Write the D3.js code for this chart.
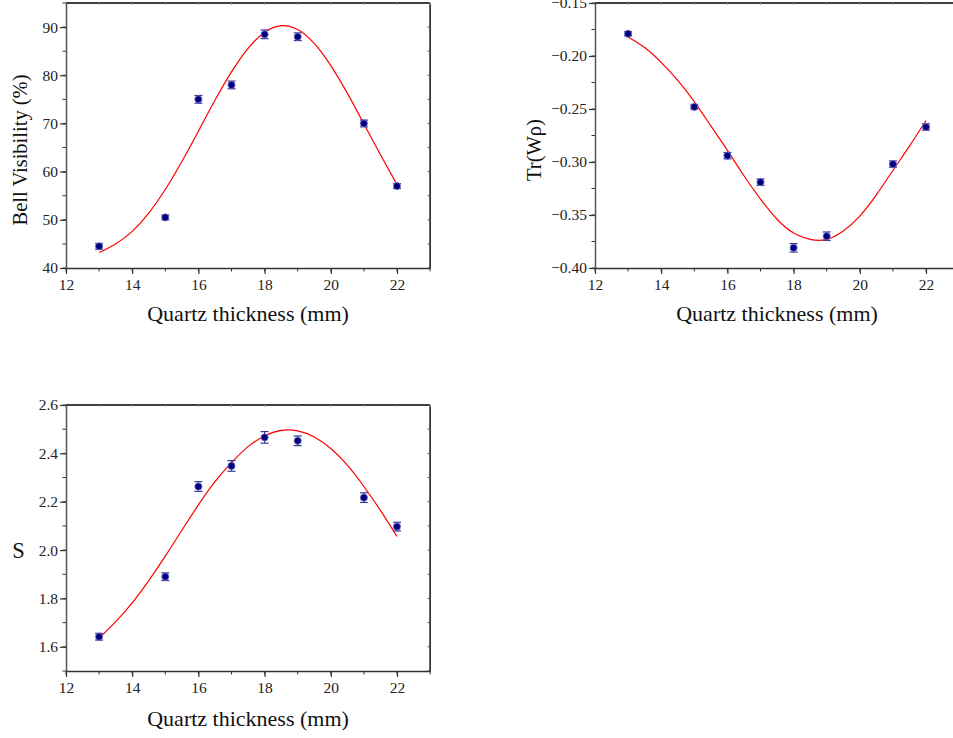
<!DOCTYPE html>
<html><head><meta charset="utf-8">
<script src="https://cdn.jsdelivr.net/npm/d3@7"></script>
<style>
body{margin:0;background:#fff;}
svg{display:block;}
text{font-family:"Liberation Serif","Times New Roman","DejaVu Serif",serif;}
</style></head>
<body>
<svg id="chart" width="953" height="738"></svg>
<script>
// ---------- data ----------
const thickness = [13, 15, 16, 17, 18, 19, 21, 22];

const visibility    = [44.5, 50.5, 75.0, 78.0, 88.5, 88.0, 70.0, 57.0];
const visibilityErr = [0.6, 0.5, 0.8, 0.8, 0.9, 0.8, 0.7, 0.5];

const traceW    = [-0.179, -0.248, -0.294, -0.319, -0.381, -0.370, -0.302, -0.267];
const traceWErr = [0.002, 0.002, 0.003, 0.003, 0.004, 0.004, 0.003, 0.003];

const sValue = [1.642, 1.890, 2.263, 2.348, 2.466, 2.452, 2.217, 2.097];
const sErr   = [0.014, 0.016, 0.020, 0.022, 0.024, 0.020, 0.020, 0.018];

// fitted curves
const fitX = [13, 13.5, 14, 14.5, 15, 15.5, 16, 16.5, 17, 17.5, 18, 18.5, 19, 19.5, 20, 20.5, 21, 21.5, 22];
const fitVisibility = [43.2, 45.0, 47.6, 51.4, 56.3, 62.1, 68.4, 74.8, 80.7, 85.6, 88.9, 90.3, 89.5, 86.6, 82.0, 76.3, 69.9, 63.5, 57.3];
const fitTraceW = [-0.182, -0.192, -0.206, -0.223, -0.243, -0.266, -0.289, -0.313, -0.335, -0.354, -0.367, -0.373, -0.373, -0.365, -0.351, -0.331, -0.308, -0.285, -0.261];
const fitS = [1.635, 1.704, 1.782, 1.874, 1.975, 2.082, 2.187, 2.283, 2.362, 2.428, 2.472, 2.495, 2.493, 2.468, 2.420, 2.351, 2.263, 2.164, 2.056];

const xTicks = [12, 14, 16, 18, 20, 22];
const yTicks1 = [40, 50, 60, 70, 80, 90];
const yTicks2 = [-0.40, -0.35, -0.30, -0.25, -0.20, -0.15];
const yTicks3 = [1.6, 1.8, 2.0, 2.2, 2.4, 2.6];

const panels = [
  {left:66, top:3, bottom:268, yDom:[40,95], yTicks:yTicks1, yMinor:d3.range(40,95.01,5), yFmt:d3.format("d"),
   ys:visibility, err:visibilityErr, fit:fitVisibility,
   ylabel:"Bell Visibility (%)", ylx:20, yly:150, rotate:true, ylSize:20.5, xlabY:321},
  {left:595, top:3, bottom:268, yDom:[-0.40,-0.15], yTicks:yTicks2, yMinor:d3.range(-0.40,-0.1499,0.025), yFmt:d3.format(".2f"),
   ys:traceW, err:traceWErr, fit:fitTraceW,
   ylabel:"Tr(Wρ)", ylx:534, yly:150, rotate:true, ylSize:20.5, xlabY:321},
  {left:66, top:405, bottom:671, yDom:[1.5,2.6], yTicks:yTicks3, yMinor:d3.range(1.5,2.601,0.1), yFmt:d3.format(".1f"),
   ys:sValue, err:sErr, fit:fitS,
   ylabel:"S", ylx:18.5, yly:558, rotate:false, ylSize:22.5, xlabY:726}
];

const svg = d3.select("#chart");
const axisColor = "#333";
const textColor = "#222";
const FONT = '"Liberation Serif","Times New Roman","DejaVu Serif",serif';

panels.forEach(p => {
  const x = d3.scaleLinear().domain([12,23]).range([p.left, p.left + 11*33.1]);
  const y = d3.scaleLinear().domain(p.yDom).range([p.bottom, p.top]);
  const g = svg.append("g");

  const xr = x(23);
  g.append("line").attr("x1",p.left).attr("x2",xr).attr("y1",p.top).attr("y2",p.top).attr("stroke","#000").attr("stroke-width",1.4);
  g.append("line").attr("x1",xr).attr("x2",xr).attr("y1",p.top).attr("y2",p.bottom).attr("stroke","#000").attr("stroke-width",1.4);

  g.selectAll(".mx").data(d3.range(12,23.01,1)).join("line")
    .attr("x1",d=>x(d)).attr("x2",d=>x(d)).attr("y1",p.bottom).attr("y2",p.bottom+3.5)
    .attr("stroke",axisColor).attr("stroke-width",1);
  g.selectAll(".my").data(p.yMinor).join("line")
    .attr("x1",p.left-3.5).attr("x2",p.left).attr("y1",d=>y(d)).attr("y2",d=>y(d))
    .attr("stroke",axisColor).attr("stroke-width",1);
  g.selectAll(".ry").data(p.yMinor).join("line")
    .attr("x1",xr-2.5).attr("x2",xr).attr("y1",d=>y(d)).attr("y2",d=>y(d))
    .attr("stroke","#555").attr("stroke-width",1);
  g.selectAll(".tx").data(d3.range(12,23.01,1)).join("line")
    .attr("x1",d=>x(d)).attr("x2",d=>x(d)).attr("y1",p.top).attr("y2",p.top+2)
    .attr("stroke","#999").attr("stroke-width",1);

  const xa = g.append("g").attr("transform",`translate(0,${p.bottom})`)
    .call(d3.axisBottom(x).tickValues(xTicks).tickSize(6).tickPadding(5).tickSizeOuter(0));
  xa.attr("font-family",FONT);
  xa.select(".domain").attr("stroke",axisColor).attr("stroke-width",1.5);
  xa.selectAll(".tick line").attr("stroke",axisColor).attr("stroke-width",1.2);
  xa.selectAll("text").attr("font-size",15.5).attr("fill",textColor).attr("font-family",FONT);

  const ya = g.append("g").attr("transform",`translate(${p.left},0)`)
    .call(d3.axisLeft(y).tickValues(p.yTicks).tickFormat(p.yFmt).tickSize(6).tickPadding(2).tickSizeOuter(0));
  ya.attr("font-family",FONT);
  ya.select(".domain").attr("stroke","#555").attr("stroke-width",1.5);
  ya.selectAll(".tick line").attr("stroke",axisColor).attr("stroke-width",1.2);
  ya.selectAll("text").attr("font-size",15.5).attr("fill",textColor).attr("font-family",FONT);

  const line = d3.line().x((d,i)=>x(fitX[i])).y(d=>y(d)).curve(d3.curveNatural);
  g.append("path").datum(p.fit).attr("d",line).attr("fill","none").attr("stroke","#ff0000").attr("stroke-width",1.2);

  const eb = g.selectAll(".eb").data(p.ys).join("g");
  eb.append("line").attr("x1",(d,i)=>x(thickness[i])).attr("x2",(d,i)=>x(thickness[i]))
    .attr("y1",(d,i)=>y(d-p.err[i])).attr("y2",(d,i)=>y(d+p.err[i]))
    .attr("stroke","#3a3a9a").attr("stroke-width",1.2);
  [-1,1].forEach(s=>{
    eb.append("line").attr("x1",(d,i)=>x(thickness[i])-4).attr("x2",(d,i)=>x(thickness[i])+4)
      .attr("y1",(d,i)=>y(d+s*p.err[i])).attr("y2",(d,i)=>y(d+s*p.err[i]))
      .attr("stroke","#3a3a9a").attr("stroke-width",1.2);
  });
  g.selectAll(".pt").data(p.ys).join("circle")
    .attr("cx",(d,i)=>x(thickness[i])).attr("cy",d=>y(d)).attr("r",3.6)
    .attr("fill","#000080").attr("stroke","#7a7ac0").attr("stroke-width",0.8);

  const cx = (p.left + x(23))/2;
  g.append("text").attr("x",cx).attr("y",p.xlabY).attr("text-anchor","middle")
    .attr("font-family",FONT).attr("font-size",22).attr("fill","#111").text("Quartz thickness (mm)");
  const yl = g.append("text").attr("text-anchor","middle").attr("font-family",FONT)
    .attr("font-size",p.ylSize).attr("fill","#111").text(p.ylabel);
  if (p.rotate) yl.attr("transform",`translate(${p.ylx},${p.yly}) rotate(-90)`).attr("dy","0.35em");
  else yl.attr("x",p.ylx).attr("y",p.yly);
});
</script>
</body></html>
